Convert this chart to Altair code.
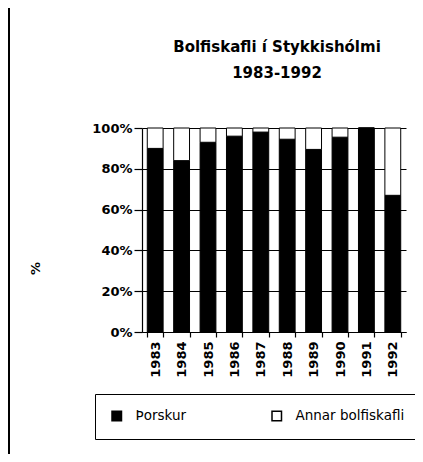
import altair as alt
import pandas as pd

years = ["1983", "1984", "1985", "1986", "1987", "1988", "1989", "1990", "1991", "1992"]
thorskur = [90, 84, 93, 96, 98, 94.5, 89.5, 95.5, 100, 67]
annar = [round(100 - v, 1) for v in thorskur]
series = ["Þorskur", "Annar bolfiskafli"]
title_lines = ["Bolfiskafli í Stykkishólmi", "1983-1992"]

rows = []
for y, t, a in zip(years, thorskur, annar):
    rows.append({"year": y, "tegund": series[0], "value": t, "ord": 0})
    rows.append({"year": y, "tegund": series[1], "value": a, "ord": 1})
df = pd.DataFrame(rows)

FONT = "DejaVu Sans"

bars = alt.Chart(df).mark_bar(stroke="black", strokeWidth=1).encode(
    x=alt.X("year:N", sort=years,
            scale=alt.Scale(paddingInner=0.4, paddingOuter=0.2),
            axis=alt.Axis(title=None, labelAngle=-90, labelFontSize=13, labelPadding=4,
                          labelFontWeight="bold",
                          tickBand="extent", tickSize=5, labelBaseline="middle", labelAlign="right")),
    y=alt.Y("value:Q", stack="zero",
            scale=alt.Scale(domain=[0, 100], nice=False),
            axis=alt.Axis(title="%", values=[0, 20, 40, 60, 80, 100],
                          labelExpr="datum.value + '%'", labelFontSize=13, tickSize=8,
                          labelFontWeight="bold",
                          labelPadding=2, grid=True, titleX=-100, titleY=140,
                          titleFontSize=13, titleFontWeight="bold", titleAngle=-90)),
    color=alt.Color("tegund:N",
                    scale=alt.Scale(domain=series, range=["black", "white"]),
                    legend=alt.Legend(title=None, orient="none", legendX=-47, legendY=266,
                                      direction="horizontal", columns=2, columnPadding=82,
                                      symbolType="square", symbolSize=90,
                                      symbolStrokeColor="black", symbolStrokeWidth=1.5,
                                      labelFontSize=13.5, labelOffset=12, padding=15,
                                      strokeColor="black", labelFont=FONT, labelColor="black")),
    order=alt.Order("ord:Q"),
)

frame = alt.Chart(df).mark_rule(color="black", strokeWidth=1.5).encode(
    x=alt.value(-133), y=alt.value(-128), y2=alt.value(334)
)

title1 = alt.Chart(pd.DataFrame({"t": [title_lines[0]]})).mark_text(
    font=FONT, fontSize=15, fontWeight="bold", color="black", baseline="middle", align="center"
).encode(text="t:N", x=alt.value(135), y=alt.value(-81))

title2 = alt.Chart(pd.DataFrame({"t": [title_lines[1]]})).mark_text(
    font=FONT, fontSize=15, fontWeight="bold", color="black", baseline="middle", align="center"
).encode(text="t:N", x=alt.value(135), y=alt.value(-55))

chart = alt.layer(frame, bars, title1, title2).properties(
    width=264, height=204,
    padding={"left": 134, "top": 120, "right": 9, "bottom": 122},
    autosize=alt.AutoSizeParams(type="none"),
).configure_view(stroke=None).configure_axis(
    labelFont=FONT, titleFont=FONT, labelColor="black", titleColor="black",
    domainColor="black", tickColor="black", gridColor="black", gridOpacity=1,
    domainWidth=1.2, tickWidth=1.2
)

chart.save("out.html", embed_options={"renderer": "svg", "actions": False})
